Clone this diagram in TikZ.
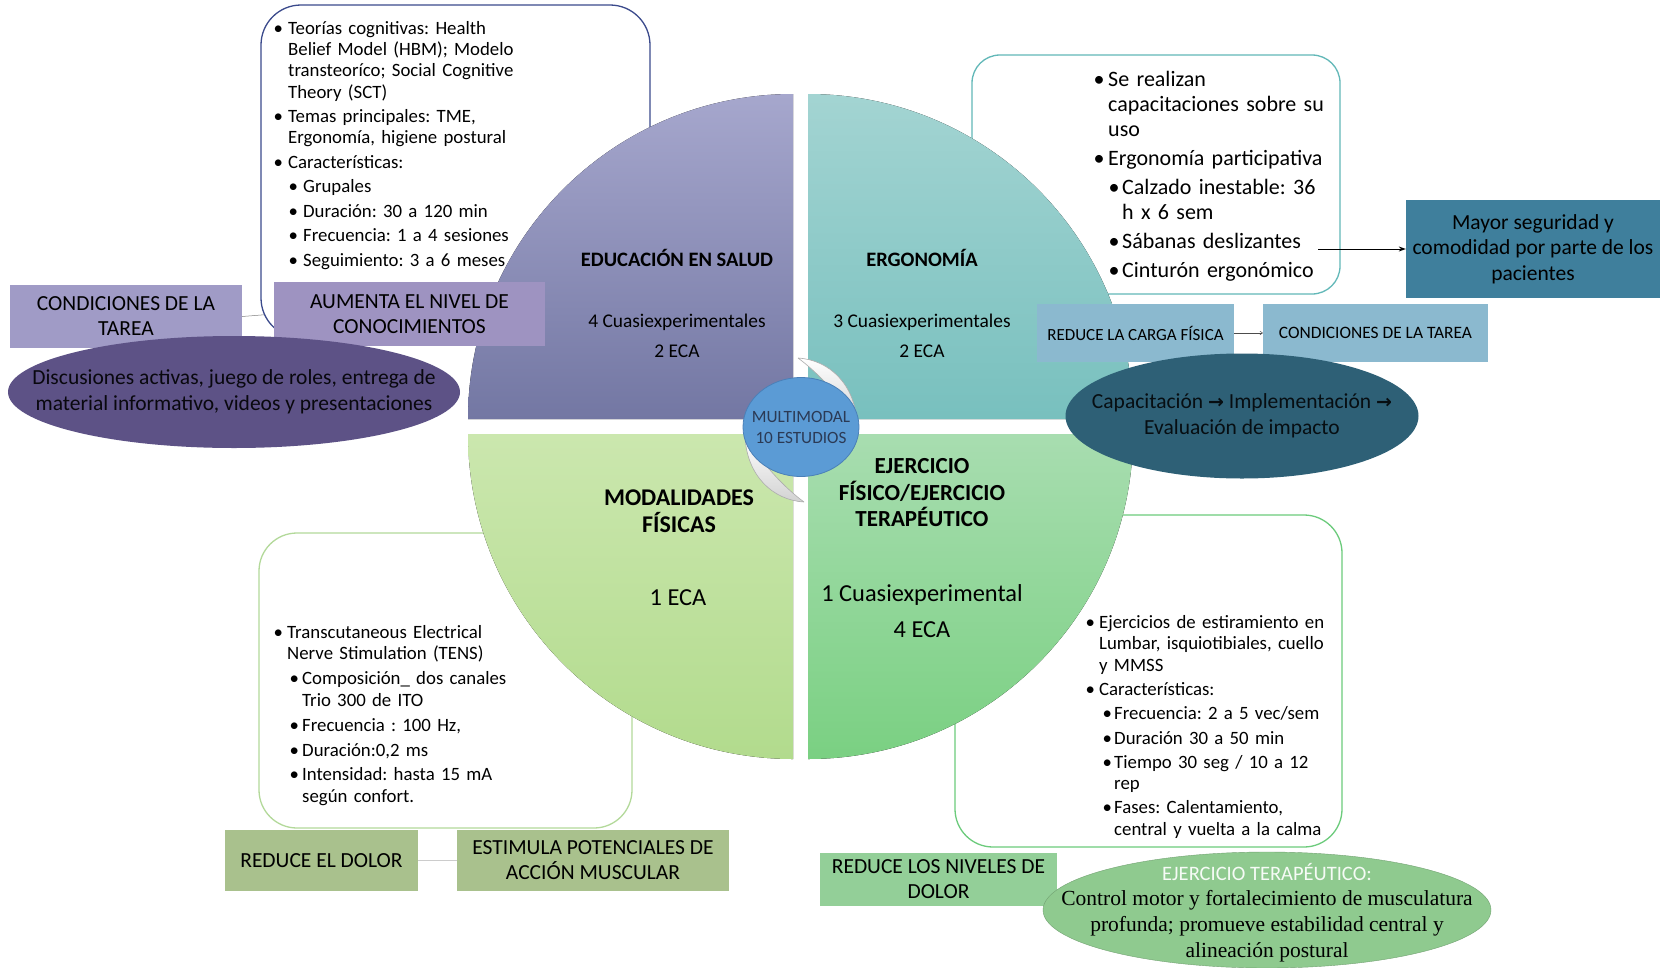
\documentclass[tikz,border=0pt]{standalone}
\usepackage{fontspec}
\setmainfont{Carlito}
\newfontfamily\tnr{Liberation Serif}
\newfontfamily\dejavu{DejaVu Sans}
\usetikzlibrary{arrows.meta,shapes.geometric,backgrounds}

\definecolor{tlT}{HTML}{A6A7CD}
\definecolor{tlB}{HTML}{7377A3}
\definecolor{trT}{HTML}{A3D4D2}
\definecolor{trB}{HTML}{78C0BE}
\definecolor{blT}{HTML}{CBE7AE}
\definecolor{blB}{HTML}{B2DB8D}
\definecolor{brT}{HTML}{A8DDB0}
\definecolor{brB}{HTML}{7AD082}
\definecolor{lav}{HTML}{A09BC6}
\definecolor{lav2}{HTML}{9E93C1}
\definecolor{purp}{HTML}{5D5286}
\definecolor{steel}{HTML}{8BB9CF}
\definecolor{mayorc}{HTML}{3F7F9C}
\definecolor{dteal}{HTML}{2E6076}
\definecolor{olive}{HTML}{A9C18D}
\definecolor{gbox}{HTML}{93CF98}
\definecolor{gell}{HTML}{8FCA8F}
\definecolor{cblue}{HTML}{5B9BD5}
\definecolor{cbd}{HTML}{4A80B8}
\definecolor{navyb}{HTML}{3B4A8C}
\definecolor{tealb}{HTML}{62B8B8}
\definecolor{lgb}{HTML}{B3D99A}
\definecolor{gbd}{HTML}{6CCB7C}
\definecolor{ctext}{HTML}{2B3A55}

\newcommand{\fs}[2]{\fontsize{#1}{#2}\selectfont}
\newlength\bwA \newlength\bwB \newlength\indB
\newcommand{\itemA}{\par\leftskip=0pt\noindent\llap{\makebox[\bwA][c]{\textbullet}}}
\newcommand{\itemB}{\par\leftskip=\indB\noindent\llap{\makebox[\bwB][c]{\textbullet}}}

\tikzset{
  frame/.style={line width=1.3pt, fill=white},
  lst/.style={align=left, inner sep=0pt, anchor=north west, text width=#1},
  qtext/.style={inner sep=0pt, align=center, text=black},
  lbox/.style={inner sep=0pt, align=center, text=black},
  oval/.style={ellipse, inner sep=0pt},
  crescent/.style={draw=gray!65, line width=0.6pt, top color=white, bottom color=gray!35},
}

\begin{document}
\frenchspacing
\begin{tikzpicture}[x=1pt,y=-1pt]
\useasboundingbox (0,0) rectangle (1663,967);
\begin{pgfonlayer}{background}
\fill[white] (0,0) rectangle (1663,967);
\end{pgfonlayer}

% rounded frames
\draw[frame, draw=navyb, rounded corners=40pt] (261,5) rectangle (650,338);
\draw[frame, draw=tealb, rounded corners=28pt] (972,55) rectangle (1340,294);
\draw[frame, draw=lgb, rounded corners=38pt] (259,533) rectangle (632,828);
\draw[frame, draw=gbd, rounded corners=38pt] (955,515) rectangle (1342,847);

% frame texts
\node[lst=340pt, font=\fs{18.8}{21.3}] (tltxt) at (288,9.5) {\setlength\bwA{20pt}\setlength\bwB{20pt}\setlength\indB{15pt}\setlength\parskip{3.2pt}%
\itemA Teorías cognitivas: Health\\Belief Model (HBM); Modelo\\transteoríco; Social Cognitive\\Theory (SCT)
\itemA Temas principales: TME,\\Ergonomía, higiene postural
\itemA Características:
\itemB Grupales
\itemB Duración: 30 a 120 min
\itemB Frecuencia: 1 a 4 sesiones
\itemB Seguimiento: 3 a 6 meses\par};

\node[lst=240pt, font=\fs{22}{24.9}] (trtxt) at (1108,57.5) {\setlength\bwA{18pt}\setlength\bwB{16pt}\setlength\indB{14pt}\setlength\parskip{4.2pt}%
\itemA Se realizan\\capacitaciones sobre su\\uso
\itemA Ergonomía participativa
\itemB Calzado inestable: 36\\h x 6 sem
\itemB Sábanas deslizantes
\itemB Cinturón ergonómico\par};

\node[lst=330pt, font=\fs{18.8}{21.8}] (bltxt) at (287,613) {\setlength\bwA{18pt}\setlength\bwB{16pt}\setlength\indB{15pt}\setlength\parskip{3pt}%
\itemA Transcutaneous Electrical\\Nerve Stimulation (TENS)
\itemB Composición\_ dos canales\\Trio 300 de ITO
\itemB Frecuencia : 100 Hz,
\itemB Duración:0,2 ms
\itemB Intensidad: hasta 15 mA\\según confort.\par};

\node[lst=250pt, font=\fs{18.8}{21.3}] (brtxt) at (1099,604) {\setlength\bwA{18pt}\setlength\bwB{14pt}\setlength\indB{15pt}\setlength\parskip{3pt}%
\itemA Ejercicios de estiramiento en\\Lumbar, isquiotibiales, cuello\\y MMSS
\itemA Características:
\itemB Frecuencia: 2 a 5 vec/sem
\itemB Duración 30 a 50 min
\itemB Tiempo 30 seg / 10 a 12\\rep
\itemB Fases: Calentamiento,\\central y vuelta a la calma\par};

% quadrants
\fill[top color=tlT, bottom color=tlB] (793,419) -- (468,419) arc[start angle=180, end angle=270, radius=325] -- cycle;
\fill[top color=trT, bottom color=trB] (808,419) -- (808,94) arc[start angle=270, end angle=360, radius=325] -- cycle;
\fill[top color=blT, bottom color=blB] (793,434) -- (793,759) arc[start angle=90, end angle=180, radius=325] -- cycle;
\fill[top color=brT, bottom color=brB] (808,434) -- (1133,434) arc[start angle=0, end angle=90, radius=325] -- cycle;

% quadrant texts
\node[qtext, font=\bfseries\fs{20.5}{24}] (edu) at (677,258) {EDUCACIÓN EN SALUD};
\node[qtext, font=\fs{19.4}{30}] (edun) at (677,336) {4 Cuasiexperimentales\\2 ECA};
\node[qtext, font=\bfseries\fs{20.5}{24}] (erg) at (922,258) {ERGONOMÍA};
\node[qtext, font=\fs{19.4}{30}] (ergn) at (922,336) {3 Cuasiexperimentales\\2 ECA};
\node[qtext, font=\bfseries\fs{24}{27}] (mod) at (679,511) {MODALIDADES\\FÍSICAS};
\node[qtext, font=\fs{24.4}{26}] (modn) at (678,598) {1 ECA};
\node[qtext, font=\bfseries\fs{23}{26.5}] (eje) at (922,493) {EJERCICIO\\FÍSICO/EJERCICIO\\TERAPÉUTICO};
\node[qtext, font=\fs{24.4}{36}] (ejen) at (922,611) {1 Cuasiexperimental\\4 ECA};

% centre
\draw[crescent] (798,358) .. controls (830,360) and (855,385) .. (857,423) .. controls (845,405) and (825,378) .. (798,358);
\draw[crescent] (804,502) .. controls (772,500) and (747,475) .. (745,437) .. controls (757,455) and (777,482) .. (804,502);
\node[oval, draw=cbd, line width=0.8pt, fill=cblue, minimum width=116pt, minimum height=99pt] (mm) at (801,427) {};
\node[qtext, text=ctext, font=\fs{17.2}{21}] (mmt) at (mm.center) {MULTIMODAL\\10 ESTUDIOS};

% left side labels
\node[lbox, fill=lav, minimum width=232pt, minimum height=63pt, font=\fs{21.5}{25}] (condL) at (126,316.5) {CONDICIONES DE LA\\TAREA};
\node[lbox, fill=lav2, minimum width=271pt, minimum height=64pt, font=\fs{21.5}{25}] (aum) at (409.5,314) {AUMENTA EL NIVEL DE\\CONOCIMIENTOS};
\begin{pgfonlayer}{background}
\draw[gray, line width=0.5pt] (condL.east) -- (aum.west);
\end{pgfonlayer}
\node[oval, fill=purp, minimum width=452pt, minimum height=112pt] (disc) at (234,392) {};
\node[qtext, text=black!90!purp, font=\fs{21.5}{26}] (disct) at (disc.center) {Discusiones activas, juego de roles, entrega de\\material informativo, videos y presentaciones};

% right side labels
\node[lbox, fill=mayorc, minimum width=254pt, minimum height=98pt, font=\fs{21.5}{25.5}] (mayor) at (1533,249) {Mayor seguridad y\\comodidad por parte de los\\pacientes};
\coordinate (arrS) at (1318,249);
\draw[-{Stealth[length=7pt,width=5pt]}, line width=1pt] (arrS) -- (mayor.west);
\node[lbox, fill=steel, minimum width=197pt, minimum height=58pt, font=\fs{17}{20}] (rcf) at (1135.5,333) {REDUCE LA CARGA FÍSICA};
\node[lbox, fill=steel, minimum width=225pt, minimum height=58pt, font=\fs{17.4}{20}] (cdtR) at (1375.5,333) {CONDICIONES DE LA TAREA};
\draw[-{To[length=3pt,width=4pt]}, gray!60!black, line width=0.5pt] (rcf.east) -- (cdtR.west);
\node[oval, fill=dteal, minimum width=353pt, minimum height=125pt] (cap) at (1242,416) {};
\node[qtext, text=black!85!dteal, font=\fs{21.5}{26}] (capt) at (cap.center) {Capacitación {\dejavu\bfseries\fs{19}{26}→} Implementación {\dejavu\bfseries\fs{19}{26}→}\\Evaluación de impacto};

% bottom labels
\node[lbox, fill=olive, minimum width=193pt, minimum height=61pt, font=\fs{21.5}{25}] (redD) at (321.5,860.5) {REDUCE EL DOLOR};
\node[lbox, fill=olive, minimum width=272pt, minimum height=61pt, font=\fs{21.5}{25}] (est) at (593,860.5) {ESTIMULA POTENCIALES DE\\ACCIÓN MUSCULAR};
\draw[gray!40, line width=0.6pt] (redD.east) -- (est.west);
\node[lbox, fill=gbox, minimum width=237pt, minimum height=53pt, font=\fs{21.5}{25}] (rln) at (938.5,879) {REDUCE LOS NIVELES DE\\DOLOR};
\node[oval, fill=gell, draw=gell!80!black, line width=0.4pt, minimum width=448pt, minimum height=116pt] (gel) at (1267,910) {};
\node[qtext, text=white!92!gell, font=\fs{20.5}{21}] (gelh) at (1267,872) {EJERCICIO TERAPÉUTICO:};
\node[qtext, font=\tnr\fs{21.5}{26}] (gelt) at (1267,926) {Control motor y fortalecimiento de musculatura\\profunda; promueve estabilidad central y\\alineación postural};
\end{tikzpicture}
\end{document}
